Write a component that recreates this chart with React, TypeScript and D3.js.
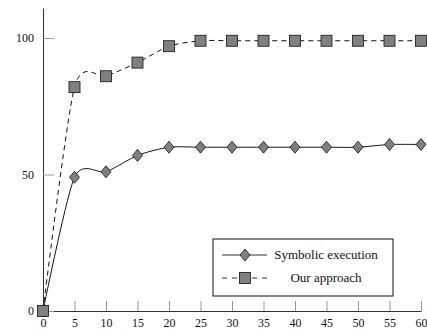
import React, { useEffect, useRef } from 'react';
import * as d3 from 'd3';

// x values (time) and the two series
const steps = [0, 5, 10, 15, 20, 25, 30, 35, 40, 45, 50, 55, 60];
const symbolic = [0, 49, 51, 57, 60, 60, 60, 60, 60, 60, 60, 61, 61];
const ours = [0, 82, 86, 91, 97, 99, 99, 99, 99, 99, 99, 99, 99];
const yTicks = [0, 50, 100];
const seriesNames = ['Symbolic execution', 'Our approach'];

const W = 427;
const H = 333;
const FONT = '"Liberation Serif", "DejaVu Serif", serif';
const GREY = '#808080';

const x = d3.scaleLinear().domain([0, 60]).range([43, 421]);
const y = d3.scaleLinear().domain([0, 111]).range([311, 8]);

const Axes = () => {
  const xRef = useRef<SVGGElement>(null);
  const yRef = useRef<SVGGElement>(null);

  useEffect(() => {
    if (xRef.current) {
      const g = d3.select(xRef.current);
      g.call(d3.axisBottom(x).tickValues(steps).tickSizeInner(-10).tickSizeOuter(0).tickPadding(7));
      g.attr('font-family', FONT).attr('font-size', 12);
      g.select('.domain').attr('stroke', '#333');
      g.selectAll('.tick line').attr('stroke', '#999');
      g.selectAll('.tick text').attr('fill', '#111');
    }
    if (yRef.current) {
      const g = d3.select(yRef.current);
      g.call(d3.axisLeft(y).tickValues(yTicks).tickSizeInner(-11).tickSizeOuter(0).tickPadding(9));
      g.attr('font-family', FONT).attr('font-size', 12);
      g.select('.domain').attr('stroke', '#333');
      g.selectAll('.tick line').attr('stroke', '#999');
      g.selectAll('.tick text').attr('fill', '#111');
    }
  }, []);

  return (
    <>
      <g ref={xRef} transform={`translate(0,${y(0)})`} />
      <g ref={yRef} transform={`translate(${x(0)},0)`} />
    </>
  );
};

const Diamond = ({ cx, cy }: { cx: number; cy: number }) => (
  <path d={`M${cx},${cy - 6}L${cx + 5},${cy}L${cx},${cy + 6}L${cx - 5},${cy}Z`} fill={GREY} stroke="#111" strokeWidth={0.8} />
);

const Square = ({ cx, cy }: { cx: number; cy: number }) => (
  <rect x={cx - 5.5} y={cy - 5.5} width={11} height={11} fill={GREY} stroke="#111" strokeWidth={0.8} />
);

const App = () => {
  const line = d3
    .line<number>()
    .x((_, i) => x(steps[i]))
    .y((d) => y(d))
    .curve(d3.curveCardinal.tension(0.25));

  const lx = 213;
  const ly = 239;

  return (
    <svg width={W} height={H} style={{ position: 'absolute', left: 0, top: 0, background: '#fff' }}>
      <Axes />
      <path d={line(symbolic) || ''} fill="none" stroke="#111" strokeWidth={1} />
      <path d={line(ours) || ''} fill="none" stroke="#111" strokeWidth={1} strokeDasharray="5,4" />
      {symbolic.map((v, i) => (
        <Diamond key={`s${i}`} cx={x(steps[i])} cy={y(v)} />
      ))}
      {ours.map((v, i) => (
        <Square key={`o${i}`} cx={x(steps[i])} cy={y(v)} />
      ))}

      <g>
        <rect x={lx} y={ly} width={180} height={57} fill="#fff" stroke="#111" strokeWidth={1} />
        <line x1={lx + 9} x2={lx + 54} y1={ly + 16} y2={ly + 16} stroke="#333" strokeWidth={1} />
        <Diamond cx={lx + 32} cy={ly + 16} />
        <line x1={lx + 9} x2={lx + 54} y1={ly + 39} y2={ly + 39} stroke="#333" strokeWidth={1} strokeDasharray="5,5" />
        <Square cx={lx + 32} cy={ly + 39} />
        {seriesNames.map((n, i) => (
          <text
            key={n}
            x={lx + 113}
            y={ly + 16 + i * 23}
            dy="0.32em"
            textAnchor="middle"
            fontFamily={FONT}
            fontSize={13}
            fill="#111"
          >
            {n}
          </text>
        ))}
      </g>
    </svg>
  );
};

export default App;
